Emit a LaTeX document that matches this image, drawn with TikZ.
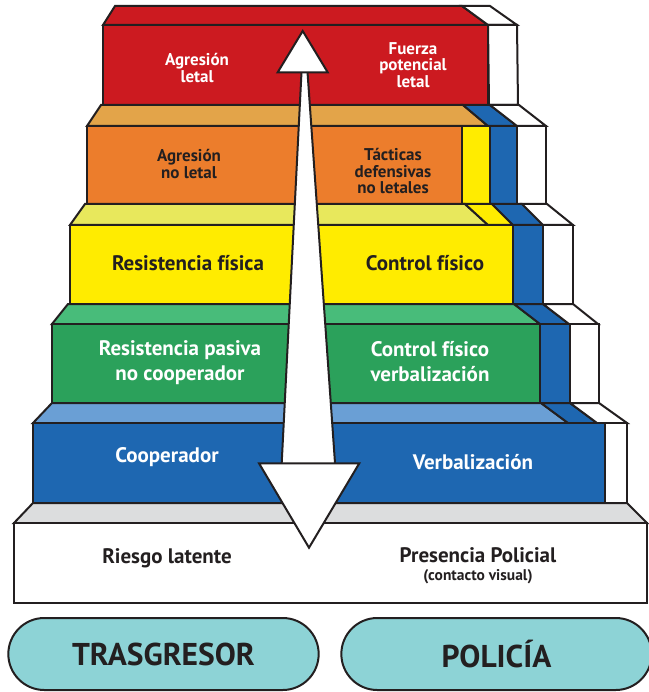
\documentclass[tikz,border=0pt]{standalone}
\usepackage{fontspec}
\setmainfont{PT Sans}
\usetikzlibrary{shapes.misc}
\definecolor{ink}{HTML}{231F20}
\definecolor{redF}{HTML}{CC1A20}
\definecolor{tanT}{HTML}{E3A449}
\definecolor{oraF}{HTML}{EC7D2C}
\definecolor{yelF}{HTML}{FFEC00}
\definecolor{yelT}{HTML}{E8E85C}
\definecolor{grnF}{HTML}{2BA15B}
\definecolor{grnT}{HTML}{48BC7A}
\definecolor{bluF}{HTML}{1E67B1}
\definecolor{bluT}{HTML}{6A9FD5}
\definecolor{gryT}{HTML}{DCDDDE}
\definecolor{pillc}{HTML}{8DD3D6}
\begin{document}
\begin{tikzpicture}[x=1pt,y=-1pt,
  face/.style={draw=ink,line width=2pt,line join=miter},
  lblw/.style={text=white,align=center,font=\bfseries\fontsize{21}{25}\selectfont},
  lbld/.style={text=ink,align=center,font=\bfseries\fontsize{21}{25}\selectfont},
  lbltw/.style={text=white,align=center,font=\bfseries\fontsize{17}{16.5}\selectfont},
  lbltd/.style={text=ink,align=center,font=\bfseries\fontsize{17}{16.5}\selectfont},
  pillbox/.style={rounded rectangle,draw=ink,line width=2pt,fill=pillc,text=ink,
    minimum height=72pt,font=\bfseries\fontsize{31.5}{34}\selectfont},
  arr/.style={draw=ink,line width=2pt,fill=white,line join=miter}]
\useasboundingbox (0,0) rectangle (648,692);
\fill[white] (0,0) rectangle (648,692);
% ---- level 1 (red)
\filldraw[face,fill=redF] (115,6) -- (462,6) -- (488,25) -- (103,25) -- cycle;
\filldraw[face,fill=white] (462,6) -- (490,6) -- (517,25) -- (488,25) -- cycle;
\filldraw[face,fill=redF] (103,25) rectangle (488,105);
\filldraw[face,fill=white] (488,25) -- (517,25) -- (518,105) -- (489,105) -- cycle;
% ---- level 2 (orange)
\filldraw[face,fill=tanT] (101,105) -- (463,105) -- (488,126) -- (87,126) -- cycle;
\filldraw[face,fill=bluF] (463,105) -- (490,105) -- (517,126) -- (488,126) -- cycle;
\filldraw[face,fill=white] (490,105) -- (519,105) -- (546,126) -- (517,126) -- cycle;
\filldraw[face,fill=oraF] (87,126) rectangle (462,204);
\filldraw[face,fill=yelF] (462,126) rectangle (490,204);
\filldraw[face,fill=bluF] (490,126) rectangle (517,204);
\filldraw[face,fill=white] (517,126) rectangle (546,204);
% ---- level 3 (yellow)
\filldraw[face,fill=yelT] (85,204) -- (465,204) -- (488,225) -- (70,225) -- cycle;
\filldraw[face,fill=yelF] (465,204) -- (492,204) -- (513,225) -- (488,225) -- cycle;
\filldraw[face,fill=bluF] (492,204) -- (522,204) -- (543,225) -- (513,225) -- cycle;
\filldraw[face,fill=white] (522,204) -- (547,204) -- (573,225) -- (543,225) -- cycle;
\filldraw[face,fill=yelF] (70,225) rectangle (513,304);
\filldraw[face,fill=bluF] (513,225) rectangle (543,304);
\filldraw[face,fill=white] (543,225) rectangle (573,304);
% ---- level 4 (green)
\filldraw[face,fill=grnT] (68,304) -- (514,304) -- (540,324) -- (52,324) -- cycle;
\filldraw[face,fill=bluF] (514,304) -- (543,304) -- (569,324) -- (540,324) -- cycle;
\filldraw[face,fill=white] (543,304) -- (573,304) -- (598,324) -- (569,324) -- cycle;
\filldraw[face,fill=grnF] (52,324) rectangle (540,403);
\filldraw[face,fill=bluF] (540,324) rectangle (570,403);
\filldraw[face,fill=white] (570,324) rectangle (599,403);
% ---- level 5 (blue)
\filldraw[face,fill=bluT] (52,403) -- (541,403) -- (568,423) -- (33,423) -- cycle;
\filldraw[face,fill=bluF] (541,403) -- (570,403) -- (597,423) -- (568,423) -- cycle;
\filldraw[face,fill=white] (570,403) -- (599,403) -- (627,423) -- (597,423) -- cycle;
\filldraw[face,fill=bluF] (33,423) rectangle (605,503);
\filldraw[face,fill=white] (605,423) rectangle (627,503);
% ---- level 6 (base)
\filldraw[face,fill=gryT] (33,503) -- (627,503) -- (647,523) -- (14,523) -- cycle;
\filldraw[face,fill=white] (14,523) rectangle (647,603);
% ---- double arrow
\fill[white] (301.5,72) -- (307.5,72) -- (335,463) -- (281.7,463) -- cycle;
\draw[draw=ink,line width=2pt] (301.5,72) -- (281.7,463);
\draw[draw=ink,line width=2pt] (307.5,72) -- (335,463);
\filldraw[arr] (302.7,31) -- (327.7,72.3) -- (277.7,72.3) -- cycle;
\filldraw[arr] (259,463.3) -- (359.3,463.3) -- (309,547.7) -- cycle;
% ---- labels
\node[lbltw] (t1l) at (197,68) {Agresión\\letal};
\node[lbltw] (t1r) at (413,65) {Fuerza\\potencial\\letal};
\node[lbltd] (t2l) at (189,164) {Agresión\\no letal};
\node[lbltd] (t2r) at (393,171) {Tácticas\\defensivas\\no letales};
\node[lbld] (t3l) at (188,263) {Resistencia física};
\node[lbld] (t3r) at (425,263) {Control físico};
\node[lblw] (t4l) at (180,363) {Resistencia pasiva\\no cooperador};
\node[lblw] (t4r) at (430,362) {Control físico\\verbalización};
\node[lblw] (t5l) at (167,457) {Cooperador};
\node[lblw] (t5r) at (473,462) {Verbalización};
\node[lbld] (t6l) at (167,558) {Riesgo latente};
\node[lbld] (t6r) at (478,555) {Presencia Policial};
\node[text=ink,font=\bfseries\fontsize{15.5}{16}\selectfont] (t6s) at (478,577) {(contacto visual)};
% ---- pills
\node[pillbox,minimum width=317pt] (tras) at (163.5,654) {TRASGRESOR};
\node[pillbox,minimum width=317pt] (poli) at (496.5,654) {POLICÍA};
\end{tikzpicture}
\end{document}
